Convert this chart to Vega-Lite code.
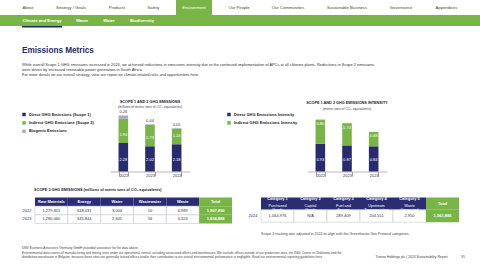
{
  "$schema": "https://vega.github.io/schema/vega-lite/v6.json",
  "padding": 0,
  "background": "white",
  "config": {"font": "Liberation Sans", "view": {"stroke": null}},
  "spacing": 17.5,
  "vconcat": [
    {
      "spacing": 0,
      "vconcat": [
        {
          "spacing": 0, "bounds": "flush",
          "hconcat": [
            {"width": 17, "height": 15, "data": {"values": []}, "mark": "text"},
            {"width": 22, "height": 15, "data": {"values": [{"label": "About"}]}, "mark": {"type": "text", "fontSize": 4.2, "color": "#444"}, "encoding": {"text": {"field": "label"}}},
            {"width": 64, "height": 15, "data": {"values": [{"label": "Strategy / Goals"}]}, "mark": {"type": "text", "fontSize": 4.2, "color": "#444"}, "encoding": {"text": {"field": "label"}}},
            {"width": 28, "height": 15, "data": {"values": [{"label": "Products"}]}, "mark": {"type": "text", "fontSize": 4.2, "color": "#444"}, "encoding": {"text": {"field": "label"}}},
            {"width": 45, "height": 15, "data": {"values": [{"label": "Safety"}]}, "mark": {"type": "text", "fontSize": 4.2, "color": "#444"}, "encoding": {"text": {"field": "label"}}},
            {"width": 36, "height": 15, "view": {"fill": "#79b546"}, "data": {"values": [{"label": "Environment"}]}, "mark": {"type": "text", "fontSize": 4.2, "color": "white"}, "encoding": {"text": {"field": "label"}}},
            {"width": 54, "height": 15, "data": {"values": [{"label": "Our People"}]}, "mark": {"type": "text", "fontSize": 4.2, "color": "#444"}, "encoding": {"text": {"field": "label"}}},
            {"width": 44, "height": 15, "data": {"values": [{"label": "Our Communities"}]}, "mark": {"type": "text", "fontSize": 4.2, "color": "#444"}, "encoding": {"text": {"field": "label"}}},
            {"width": 74, "height": 15, "data": {"values": [{"label": "Sustainable Business"}]}, "mark": {"type": "text", "fontSize": 4.2, "color": "#444"}, "encoding": {"text": {"field": "label"}}},
            {"width": 34, "height": 15, "data": {"values": [{"label": "Governance"}]}, "mark": {"type": "text", "fontSize": 4.2, "color": "#444"}, "encoding": {"text": {"field": "label"}}},
            {"width": 57, "height": 15, "data": {"values": [{"label": "Appendices"}]}, "mark": {"type": "text", "fontSize": 4.2, "color": "#444"}, "encoding": {"text": {"field": "label"}}}
          ]
        },
        {
          "spacing": 0, "bounds": "flush",
          "hconcat": [
            {"width": 22, "height": 11, "view": {"fill": "#79b546"}, "data": {"values": []}, "mark": "text"},
            {"width": 40, "height": 11, "view": {"fill": "#79b546"}, "data": {"values": [{"label": "Climate and Energy"}]}, "mark": {"type": "text", "fontSize": 4.2, "fontWeight": "bold", "color": "white"}, "encoding": {"text": {"field": "label"}}},
            {"width": 40, "height": 11, "view": {"fill": "#79b546"}, "data": {"values": [{"label": "Waste"}]}, "mark": {"type": "text", "fontSize": 4.2, "fontWeight": "bold", "color": "white"}, "encoding": {"text": {"field": "label"}}},
            {"width": 14, "height": 11, "view": {"fill": "#79b546"}, "data": {"values": [{"label": "Water"}]}, "mark": {"type": "text", "fontSize": 4.2, "fontWeight": "bold", "color": "white"}, "encoding": {"text": {"field": "label"}}},
            {"width": 52, "height": 11, "view": {"fill": "#79b546"}, "data": {"values": [{"label": "Biodiversity"}]}, "mark": {"type": "text", "fontSize": 4.2, "fontWeight": "bold", "color": "white"}, "encoding": {"text": {"field": "label"}}},
            {"width": 312, "height": 11, "view": {"fill": "#79b546"}, "data": {"values": []}, "mark": "text"}
          ]
        },
        {
          "spacing": 0, "bounds": "flush",
          "hconcat": [
            {"width": 22, "height": 1.5, "data": {"values": []}, "mark": "text"},
            {"width": 40, "height": 1.5, "view": {"fill": "#1f2a5c"}, "data": {"values": []}, "mark": "text"}
          ]
        }
      ]
    },
    {
      "spacing": 0,
      "hconcat": [
        {"width": 21, "height": 1, "data": {"values": []}, "mark": "text"},
        {
          "spacing": 10,
          "vconcat": [
            {
              "spacing": 0,
              "hconcat": [
                {"width": 1, "height": 1, "data": {"values": []}, "mark": "text"},
                {
                  "title": {
                    "text": "Emissions Metrics",
                    "subtitle": [
                      "While overall Scope 1 GHG emissions increased in 2024, we achieved reductions in emissions intensity due to the continued implementation of APCs at all chlorine plants. Reductions in Scope 2 emissions",
                      "were driven by increased renewable power generation in South Africa.",
                      " ",
                      "For more details on our overall strategy, view our report on climate-related risks and opportunities here."
                    ],
                    "anchor": "start", "frame": "bounds",
                    "fontSize": 8.2, "fontWeight": "bold", "color": "#2b2b6b",
                    "subtitleFontSize": 3.9, "subtitleColor": "#333", "subtitleLineHeight": 4.9,
                    "subtitlePadding": 8, "offset": 17
                  },
                  "resolve": {"scale": {"color": "independent"}, "legend": {"color": "independent"}},
                  "spacing": 37,
                  "hconcat": [
                    {
                      "width": 80, "height": 60,
                      "title": {"text": "SCOPE 1 AND 2 GHG EMISSIONS", "subtitle": "(millions of metric tons of CO₂ equivalents)", "anchor": "middle", "fontSize": 3.8, "fontWeight": "bold", "color": "#1a1a2e", "subtitleFontSize": 3.4, "subtitleColor": "#444", "subtitlePadding": 1.7, "offset": 1.3},
                      "data": {"values": [
                        {"year": "2022", "series": "Direct GHG Emissions (Scope 1)", "value": 2.28, "rank": 1},
                        {"year": "2022", "series": "Indirect GHG Emissions (Scope 2)", "value": 1.94, "rank": 2},
                        {"year": "2022", "series": "Biogenic Emissions", "value": 0.26, "rank": 3},
                        {"year": "2023", "series": "Direct GHG Emissions (Scope 1)", "value": 2.02, "rank": 1},
                        {"year": "2023", "series": "Indirect GHG Emissions (Scope 2)", "value": 1.73, "rank": 2},
                        {"year": "2023", "series": "Biogenic Emissions", "value": 0.04, "rank": 3},
                        {"year": "2024", "series": "Direct GHG Emissions (Scope 1)", "value": 2.18, "rank": 1},
                        {"year": "2024", "series": "Indirect GHG Emissions (Scope 2)", "value": 1.24, "rank": 2},
                        {"year": "2024", "series": "Biogenic Emissions", "value": 0.05, "rank": 3}
                      ]},
                      "transform": [{"stack": "value", "groupby": ["year"], "sort": [{"field": "rank", "order": "ascending"}], "as": ["s0", "s1"]}],
                      "encoding": {
                        "x": {"field": "year", "type": "ordinal", "scale": {"paddingInner": 0.64, "paddingOuter": 0.32},
                          "axis": {"title": null, "labelAngle": 0, "labelFontSize": 4, "labelColor": "#333", "domainColor": "#999", "domainWidth": 0.7, "tickBand": "extent", "tickSize": 4.5, "tickColor": "#777", "tickWidth": 0.7, "labelPadding": -3}}
                      },
                      "layer": [
                        {
                          "mark": {"type": "bar"},
                          "encoding": {
                            "y": {"field": "s1", "type": "quantitative", "scale": {"domain": [0, 4.8], "nice": false}, "axis": null},
                            "y2": {"field": "s0"},
                            "color": {"field": "series", "type": "nominal",
                              "scale": {"domain": ["Direct GHG Emissions (Scope 1)", "Indirect GHG Emissions (Scope 2)", "Biogenic Emissions"], "range": ["#2a2b6e", "#79b546", "#a9a9c6"]},
                              "legend": {"orient": "none", "legendX": -88, "legendY": 1, "title": null, "symbolType": "square", "symbolSize": 12, "symbolStrokeWidth": 0, "labelFontSize": 4, "labelFontWeight": "bold", "labelColor": "#222", "labelOffset": 3, "rowPadding": 4.4, "labelLimit": 200, "padding": 0}}
                          }
                        },
                        {
                          "transform": [{"filter": "datum.rank == 1"}],
                          "mark": {"type": "text", "color": "white", "fontSize": 4, "dy": -12},
                          "encoding": {"y": {"field": "s0", "type": "quantitative", "scale": {"domain": [0, 4.8], "nice": false}}, "text": {"field": "value", "type": "quantitative", "format": ".2f"}}
                        },
                        {
                          "transform": [{"filter": "datum.rank == 2"}],
                          "mark": {"type": "text", "color": "white", "fontSize": 4, "dy": -8},
                          "encoding": {"y": {"field": "s0", "type": "quantitative", "scale": {"domain": [0, 4.8], "nice": false}}, "text": {"field": "value", "type": "quantitative", "format": ".2f"}}
                        },
                        {
                          "transform": [{"filter": "datum.rank == 3"}],
                          "mark": {"type": "text", "color": "#333", "fontSize": 4, "baseline": "bottom", "dy": -1.5},
                          "encoding": {"y": {"field": "s1", "type": "quantitative", "scale": {"domain": [0, 4.8], "nice": false}}, "text": {"field": "value", "type": "quantitative", "format": ".2f"}}
                        }
                      ]
                    },
                    {
                      "width": 80, "height": 60,
                      "title": {"text": "SCOPE 1 AND 2 GHG EMISSIONS INTENSITY", "subtitle": "(metric tons of CO₂ equivalents)", "anchor": "middle", "fontSize": 3.8, "fontWeight": "bold", "color": "#1a1a2e", "subtitleFontSize": 3.4, "subtitleColor": "#444", "subtitlePadding": 1.7, "offset": 1.3},
                      "data": {"values": [
                        {"year": "2022", "series": "Direct GHG Emissions Intensity", "value": 0.93, "rank": 1},
                        {"year": "2022", "series": "Indirect GHG Emissions Intensity", "value": 0.80, "rank": 2},
                        {"year": "2023", "series": "Direct GHG Emissions Intensity", "value": 0.87, "rank": 1},
                        {"year": "2023", "series": "Indirect GHG Emissions Intensity", "value": 0.74, "rank": 2},
                        {"year": "2024", "series": "Direct GHG Emissions Intensity", "value": 0.84, "rank": 1},
                        {"year": "2024", "series": "Indirect GHG Emissions Intensity", "value": 0.48, "rank": 2}
                      ]},
                      "transform": [{"stack": "value", "groupby": ["year"], "sort": [{"field": "rank", "order": "ascending"}], "as": ["s0", "s1"]}],
                      "encoding": {
                        "x": {"field": "year", "type": "ordinal", "scale": {"paddingInner": 0.64, "paddingOuter": 0.32},
                          "axis": {"title": null, "labelAngle": 0, "labelFontSize": 4, "labelColor": "#333", "domainColor": "#999", "domainWidth": 0.7, "tickBand": "extent", "tickSize": 4.5, "tickColor": "#777", "tickWidth": 0.7, "labelPadding": -3}}
                      },
                      "layer": [
                        {
                          "mark": {"type": "bar"},
                          "encoding": {
                            "y": {"field": "s1", "type": "quantitative", "scale": {"domain": [0, 2], "nice": false}, "axis": null},
                            "y2": {"field": "s0"},
                            "color": {"field": "series", "type": "nominal",
                              "scale": {"domain": ["Direct GHG Emissions Intensity", "Indirect GHG Emissions Intensity"], "range": ["#2a2b6e", "#79b546"]},
                              "legend": {"orient": "none", "legendX": -80, "legendY": 1, "title": null, "symbolType": "square", "symbolSize": 12, "symbolStrokeWidth": 0, "labelFontSize": 4, "labelFontWeight": "bold", "labelColor": "#222", "labelOffset": 3, "rowPadding": 4.4, "labelLimit": 200, "padding": 0}}
                          }
                        },
                        {
                          "transform": [{"filter": "datum.rank == 1"}],
                          "mark": {"type": "text", "color": "white", "fontSize": 4, "dy": -12},
                          "encoding": {"y": {"field": "s0", "type": "quantitative", "scale": {"domain": [0, 2], "nice": false}}, "text": {"field": "value", "type": "quantitative", "format": ".2f"}}
                        },
                        {
                          "transform": [{"filter": "datum.rank == 2"}],
                          "mark": {"type": "text", "color": "white", "fontSize": 4, "dy": 4.5},
                          "encoding": {"y": {"field": "s1", "type": "quantitative", "scale": {"domain": [0, 2], "nice": false}}, "text": {"field": "value", "type": "quantitative", "format": ".2f"}}
                        }
                      ]
                    }
                  ]
                }
              ]
            },
            {
              "spacing": 0,
              "hconcat": [
                {"width": 1, "height": 1, "data": {"values": []}, "mark": "text"},
                {
                  "title": {"text": "SCOPE 3 GHG EMISSIONS (millions of metric tons of CO₂ equivalents)", "anchor": "start", "frame": "bounds", "dx": 12, "fontSize": 3.8, "fontWeight": "bold", "color": "#1a1a2e", "offset": 5},
                  "spacing": 15,
                  "hconcat": [
                    {
                      "width": 197, "height": 26,
                      "data": {"values": [
                        {"row": "hdr", "col": "Raw Materials", "kind": "header", "text": "Raw Materials"},
                        {"row": "hdr", "col": "Energy", "kind": "header", "text": "Energy"},
                        {"row": "hdr", "col": "Water", "kind": "header", "text": "Water"},
                        {"row": "hdr", "col": "Wastewater", "kind": "header", "text": "Wastewater"},
                        {"row": "hdr", "col": "Waste", "kind": "header", "text": "Waste"},
                        {"row": "hdr", "col": "Total", "kind": "total", "text": "Total"},
                        {"row": "2022", "col": "Raw Materials", "kind": "data", "text": "1,279,815"},
                        {"row": "2022", "col": "Energy", "kind": "data", "text": "618,031"},
                        {"row": "2022", "col": "Water", "kind": "data", "text": "3,004"},
                        {"row": "2022", "col": "Wastewater", "kind": "data", "text": "10"},
                        {"row": "2022", "col": "Waste", "kind": "data", "text": "6,989"},
                        {"row": "2022", "col": "Total", "kind": "total", "text": "1,907,850"},
                        {"row": "2023", "col": "Raw Materials", "kind": "data", "text": "1,280,060"},
                        {"row": "2023", "col": "Energy", "kind": "data", "text": "345,844"},
                        {"row": "2023", "col": "Water", "kind": "data", "text": "2,605"},
                        {"row": "2023", "col": "Wastewater", "kind": "data", "text": "56"},
                        {"row": "2023", "col": "Waste", "kind": "data", "text": "6,324"},
                        {"row": "2023", "col": "Total", "kind": "total", "text": "1,634,888"}
                      ]},
                      "encoding": {
                        "x": {"field": "col", "type": "nominal", "scale": {"domain": ["Raw Materials", "Energy", "Water", "Wastewater", "Waste", "Total"], "paddingInner": 0, "paddingOuter": 0}, "axis": null},
                        "y": {"field": "row", "type": "nominal", "scale": {"domain": ["hdr", "2022", "2023"], "paddingInner": 0, "paddingOuter": 0},
                          "axis": {"title": null, "domain": false, "ticks": false, "labelFontSize": 4, "labelColor": "#2b2b6b", "labelPadding": 4, "labelExpr": "datum.value == 'hdr' ? '' : datum.value"}}
                      },
                      "layer": [
                        {
                          "mark": {"type": "rect", "strokeWidth": 0.6},
                          "encoding": {
                            "fill": {"field": "kind", "type": "nominal", "scale": {"domain": ["header", "total", "data"], "range": ["#2a2d72", "#79b546", "#ffffff"]}, "legend": null},
                            "stroke": {"condition": {"test": "datum.kind === 'data'", "value": "#c5c8d6"}, "value": null}
                          }
                        },
                        {
                          "transform": [{"filter": "datum.kind === 'data'"}],
                          "mark": {"type": "text", "fontSize": 4, "color": "#333"},
                          "encoding": {"text": {"field": "text"}}
                        },
                        {
                          "transform": [{"filter": "datum.kind !== 'data'"}],
                          "mark": {"type": "text", "fontSize": 4, "fontWeight": "bold", "color": "white"},
                          "encoding": {"text": {"field": "text"}}
                        }
                      ]
                    },
                    {
                      "width": 198, "height": 24.7,
                      "title": {"text": "Scope 3 tracking was adjusted in 2024 to align with the Greenhouse Gas Protocol categories.", "orient": "bottom", "anchor": "start", "frame": "group", "fontSize": 3.6, "fontWeight": "normal", "color": "#444", "offset": 9},
                      "data": {"values": [
                        {"row": "hdr", "col": "Category 1", "kind": "header", "text": "Category 1", "desc": "Purchased\nGoods"},
                        {"row": "hdr", "col": "Category 2", "kind": "header", "text": "Category 2", "desc": "Capital\nGoods"},
                        {"row": "hdr", "col": "Category 3", "kind": "header", "text": "Category 3", "desc": "Fuel and\nEnergy"},
                        {"row": "hdr", "col": "Category 4", "kind": "header", "text": "Category 4", "desc": "Upstream\nTransportation"},
                        {"row": "hdr", "col": "Category 5", "kind": "header", "text": "Category 5", "desc": "Waste\nGenerated"},
                        {"row": "hdr", "col": "Total", "kind": "total", "text": "Total", "desc": ""},
                        {"row": "2024", "col": "Category 1", "kind": "data", "text": "1,064,976", "desc": ""},
                        {"row": "2024", "col": "Category 2", "kind": "data", "text": "N/A", "desc": ""},
                        {"row": "2024", "col": "Category 3", "kind": "data", "text": "289,409", "desc": ""},
                        {"row": "2024", "col": "Category 4", "kind": "data", "text": "204,551", "desc": ""},
                        {"row": "2024", "col": "Category 5", "kind": "data", "text": "2,950", "desc": ""},
                        {"row": "2024", "col": "Total", "kind": "total", "text": "1,561,886", "desc": ""}
                      ]},
                      "encoding": {
                        "x": {"field": "col", "type": "nominal", "scale": {"domain": ["Category 1", "Category 2", "Category 3", "Category 4", "Category 5", "Total"], "paddingInner": 0, "paddingOuter": 0}, "axis": null},
                        "y": {"field": "row", "type": "nominal", "scale": {"domain": ["hdr", "2024"], "paddingInner": 0, "paddingOuter": 0},
                          "axis": {"title": null, "domain": false, "ticks": false, "labelFontSize": 4, "labelColor": "#2b2b6b", "labelPadding": 4, "labelExpr": "datum.value == 'hdr' ? '' : datum.value"}}
                      },
                      "layer": [
                        {
                          "mark": {"type": "rect", "strokeWidth": 0.6},
                          "encoding": {
                            "fill": {"field": "kind", "type": "nominal", "scale": {"domain": ["header", "total", "data"], "range": ["#2a2d72", "#79b546", "#ffffff"]}, "legend": null},
                            "stroke": {"condition": {"test": "datum.kind === 'data'", "value": "#c5c8d6"}, "value": null}
                          }
                        },
                        {
                          "transform": [{"filter": "datum.kind === 'data'"}],
                          "mark": {"type": "text", "fontSize": 4, "color": "#333"},
                          "encoding": {"text": {"field": "text"}}
                        },
                        {
                          "transform": [{"filter": "datum.kind === 'total'"}],
                          "mark": {"type": "text", "fontSize": 4, "fontWeight": "bold", "color": "white"},
                          "encoding": {"text": {"field": "text"}}
                        },
                        {
                          "transform": [{"filter": "datum.kind === 'header'"}],
                          "mark": {"type": "text", "fontSize": 4, "fontWeight": "bold", "color": "white", "dy": -4.4},
                          "encoding": {"text": {"field": "text"}}
                        },
                        {
                          "transform": [{"filter": "datum.kind === 'header'"}],
                          "mark": {"type": "text", "fontSize": 3.8, "color": "white", "dy": 2.2, "lineBreak": "\n", "lineHeight": 4.3},
                          "encoding": {"text": {"field": "desc"}}
                        }
                      ]
                    }
                  ]
                }
              ]
            },
            {
              "spacing": 0,
              "hconcat": [
                {"width": 1, "height": 1, "data": {"values": []}, "mark": "text"},
                {
                  "width": 349, "height": 1, "data": {"values": []}, "mark": "text",
                  "title": {"text": [
                    "DNV Business Assurance Germany GmbH provided assurance for the data above.",
                    "Environmental data covers all manufacturing and mining sites under our operational control, including associated offices and warehouses. We exclude offices outside of our production sites, the R&D Center in Oklahoma and the",
                    "distribution warehouse in Belgium, because these sites are generally leased offices and/or their contribution to our overall environmental performance is negligible. Read our environmental reporting guidelines here."
                  ], "anchor": "start", "frame": "group", "fontSize": 3.2, "fontWeight": "normal", "color": "#444", "lineHeight": 4.5, "offset": 2}
                },
                {
                  "width": 81, "height": 1, "data": {"values": []}, "mark": "text",
                  "title": {"text": "Tronox Holdings plc | 2024 Sustainability Report", "anchor": "middle", "frame": "group", "fontSize": 3.4, "fontWeight": "normal", "color": "#444", "offset": 2.5}
                },
                {
                  "width": 22, "height": 1, "data": {"values": []}, "mark": "text",
                  "title": {"text": "95", "anchor": "middle", "frame": "group", "fontSize": 3.4, "fontWeight": "normal", "color": "#444", "offset": 2.5}
                }
              ]
            }
          ]
        }
      ]
    }
  ]
}
